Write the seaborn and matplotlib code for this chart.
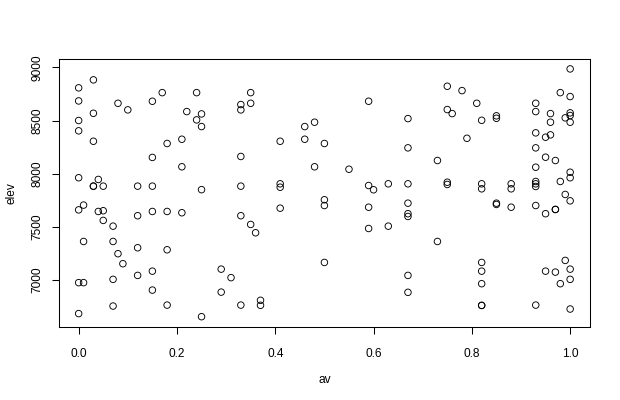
import numpy as np
import pandas as pd
import seaborn as sns
import matplotlib
matplotlib.use("Agg")
import matplotlib.pyplot as plt

# valores (av, elev)
av = [0.03, 0.00, 0.00, 0.03, 0.00, 0.00, 0.03, 0.08, 0.10, 0.00,
      0.04, 0.03, 0.03, 0.05, 0.00, 0.01, 0.04, 0.05, 0.05, 0.07,
      0.01, 0.07, 0.08, 0.09, 0.00, 0.01, 0.07, 0.07, 0.00, 0.17,
      0.15, 0.24, 0.22, 0.25, 0.24, 0.25, 0.18, 0.21, 0.15, 0.21,
      0.12, 0.15, 0.25, 0.12, 0.15, 0.18, 0.21, 0.33, 0.12, 0.18,
      0.15, 0.12, 0.29, 0.31, 0.15, 0.29, 0.18, 0.33, 0.25, 0.35,
      0.33, 0.33, 0.35, 0.59, 0.46, 0.48, 0.41, 0.46, 0.50, 0.33,
      0.48, 0.55, 0.33, 0.41, 0.41, 0.59, 0.60, 0.63, 0.67, 0.50,
      0.50, 0.67, 0.67, 0.59, 0.59, 0.50, 0.41, 0.35, 0.36, 0.63,
      0.67, 0.67, 0.67, 0.67, 0.67, 0.37, 0.37, 1.00, 0.75, 0.78,
      0.98, 1.00, 0.81, 0.93, 0.75, 0.76, 0.93, 0.96, 0.99, 1.00,
      1.00, 1.00, 0.85, 0.85, 0.82, 0.96, 0.93, 0.95, 0.96, 0.79,
      0.93, 0.73, 0.95, 0.97, 0.93, 1.00, 1.00, 0.98, 0.75, 0.75,
      0.82, 0.82, 0.88, 0.88, 0.93, 0.93, 0.93, 0.99, 1.00, 0.85,
      0.85, 0.88, 0.93, 0.95, 0.97, 0.97, 0.73, 0.82, 0.82, 0.82,
      0.82, 0.82, 0.93, 0.99, 0.95, 0.97, 1.00, 0.98, 1.00, 1.00]
elev = [8882, 8807, 8684, 8568, 8500, 8403, 8305, 8662, 8600, 7962,
        7946, 7883, 7883, 7883, 7660, 7705, 7645, 7652, 7561, 7507,
        7363, 7363, 7248, 7154, 6976, 6976, 7007, 6756, 6685, 8762,
        8681, 8762, 8584, 8562, 8506, 8443, 8284, 8324, 8153, 8065,
        7883, 7883, 7850, 7605, 7645, 7645, 7633, 7605, 7304, 7285,
        7084, 7044, 7103, 7023, 6906, 6887, 6765, 6765, 6656, 8762,
        8650, 8600, 8662, 8681, 8443, 8484, 8305, 8324, 8284, 8162,
        8065, 8042, 7883, 7905, 7873, 7889, 7849, 7905, 7905, 7755,
        7701, 8518, 8243, 7685, 7485, 7166, 7676, 7523, 7445, 7507,
        7723, 7624, 7598, 7044, 6885, 6810, 6763, 8985, 8822, 8781,
        8762, 8725, 8662, 8662, 8603, 8565, 8584, 8565, 8525, 8572,
        8547, 8484, 8544, 8521, 8502, 8484, 8384, 8343, 8365, 8333,
        8243, 8124, 8155, 8124, 8061, 8014, 7962, 7927, 7920, 7899,
        7905, 7858, 7905, 7858, 7927, 7905, 7880, 7805, 7745, 7723,
        7711, 7685, 7701, 7624, 7664, 7664, 7363, 7166, 7084, 6966,
        6762, 6762, 6765, 7185, 7084, 7075, 7103, 6966, 7007, 6728]

x_ticks = [0.0, 0.2, 0.4, 0.6, 0.8, 1.0]
y_ticks = [7000, 7500, 8000, 8500, 9000]

df = pd.DataFrame({"av": av, "elev": elev})

sns.set_theme(style="white")
plt.rcParams['font.family'] = ['Liberation Sans', 'DejaVu Sans']

fig = plt.figure(figsize=(6.2, 4.0), dpi=100)
ax = fig.add_axes([59 / 620, 73.4 / 400, 530.8 / 620, 267.6 / 400])

sns.scatterplot(data=df, x="av", y="elev", ax=ax, marker="o", s=22,
                facecolors="none", edgecolor="black", linewidth=0.65)

# limites estilo R (4% de margen)
def r_lim(v):
    lo, hi = min(v), max(v)
    pad = 0.04 * (hi - lo)
    return lo - pad, hi + pad

ax.set_xlim(*r_lim(av))
ax.set_ylim(*r_lim(elev))
ax.set_xticks(x_ticks)
ax.set_xticklabels([f"{t:.1f}" for t in x_ticks])
ax.set_yticks(y_ticks)
ax.set_yticklabels([str(t) for t in y_ticks], rotation=90, va="center")

for s in ax.spines.values():
    s.set_visible(True)
    s.set_color("black")
    s.set_linewidth(0.75)

ax.tick_params(axis="both", direction="out", length=5.2, width=0.75,
               color="black", labelsize=8.6, labelcolor="black",
               bottom=True, left=True)
ax.tick_params(axis="x", pad=10)
ax.tick_params(axis="y", pad=6)

ax.set_xlabel("av", fontsize=8.6, color="black", labelpad=10)
ax.set_ylabel("elev", fontsize=8.6, color="black", labelpad=10)
ax.grid(False)

fig.savefig("out.png", dpi=100, facecolor="white")
